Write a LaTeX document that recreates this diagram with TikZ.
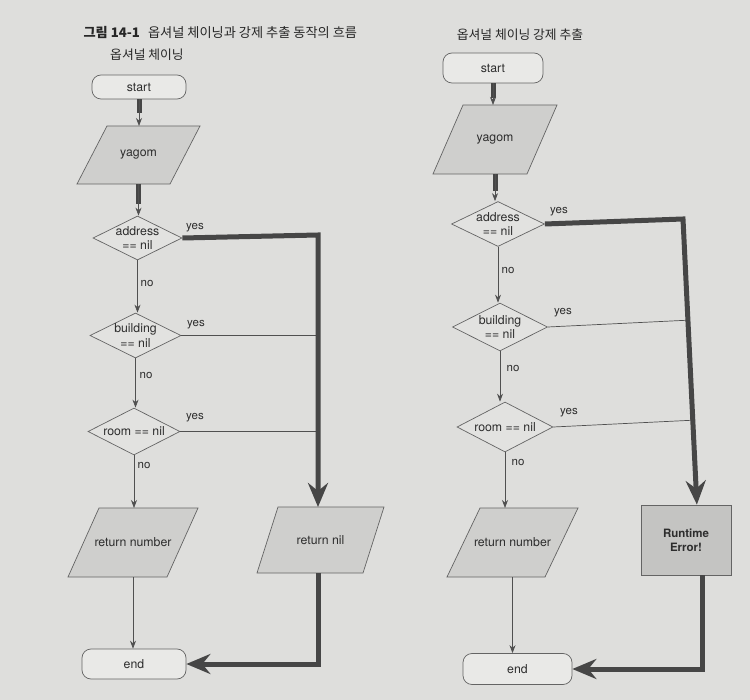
\documentclass[tikz,border=0pt]{standalone}
\usepackage{fontspec}
\setmainfont{TeX Gyre Heros}
\newfontfamily\kr{Noto Sans CJK KR}
\usetikzlibrary{shapes.geometric,arrows.meta,calc}
\definecolor{paper}{RGB}{222,222,220}
\definecolor{termfill}{RGB}{233,233,231}
\definecolor{iofill}{RGB}{207,207,205}
\definecolor{decfill}{RGB}{226,226,224}
\definecolor{procfill}{RGB}{196,196,194}
\definecolor{shapeline}{RGB}{100,100,100}
\definecolor{linec}{RGB}{80,80,80}
\definecolor{thickc}{RGB}{70,70,70}
\definecolor{txtc}{RGB}{45,45,45}
\tikzset{
  base/.style={font=\fontsize{12.3}{14}\selectfont, text=txtc, align=center, line width=0.7pt, draw=shapeline},
  term/.style={base, rectangle, rounded corners=9pt, fill=termfill},
  iostyle/.style={draw=shapeline, line width=0.7pt, fill=iofill},
  iotext/.style={font=\fontsize{12.3}{14}\selectfont, text=txtc, align=center},
  dec/.style={base, diamond, fill=decfill, inner sep=0pt},
  dtext/.style={font=\fontsize{12.3}{14.5}\selectfont, text=txtc, align=center},
  proc/.style={base, rectangle, fill=procfill, font=\bfseries\fontsize{11.5}{14}\selectfont},
  flow/.style={draw=linec, line width=0.7pt, -{Stealth[length=8pt,width=6pt]}},
  flowline/.style={draw=linec, line width=0.7pt},
  bar/.style={draw=thickc, line width=5pt},
  barend/.style={bar, -{Stealth[length=24pt,width=20pt,inset=8pt]}},
  lab/.style={font=\fontsize{11.5}{13}\selectfont, text=txtc},
  ttl/.style={font=\kr\fontsize{12.8}{14}\selectfont, text=black!85},
}
% #1 name, #2 cx, #3 cy, #4 total width, #5 height, #6 slant, #7 text
\newcommand\iobox[7]{%
  \draw[iostyle] ({#2-#4/2+#6},{#3-#5/2}) -- ({#2+#4/2},{#3-#5/2}) -- ({#2+#4/2-#6},{#3+#5/2}) -- ({#2-#4/2},{#3+#5/2}) -- cycle;
  \node[iotext] (#1) at (#2,#3) {#7};
  \coordinate (#1-n) at (#2,{#3-#5/2});
  \coordinate (#1-s) at (#2,{#3+#5/2});
}
\begin{document}
\begin{tikzpicture}[x=1pt,y=-1pt]
\useasboundingbox (0,0) rectangle (750,700);
\fill[paper] (0,0) rectangle (750,700);

% titles
\node[ttl, anchor=west, font=\kr\fontsize{13.2}{14}\selectfont] (title) at (80,33) {{\bfseries 그림 14-1}\hspace{8pt}옵셔널 체이닝과 강제 추출 동작의 흐름};
\node[ttl] (subL) at (147,55) {옵셔널 체이닝};
\node[ttl] (subR) at (520,35) {옵셔널 체이닝 강제 추출};

% ---------------- left chart ----------------
\node[term, minimum width=94pt, minimum height=24pt] (startL) at (139,87) {start};
\iobox{yagL}{138.5}{155}{123}{58}{30}{yagom}
\node[dec, minimum width=89pt, minimum height=44pt, label={[dtext]center:address\\== nil}] (addrL) at (137.5,238) {};
\node[dec, minimum width=91pt, minimum height=45pt, label={[dtext]center:building\\== nil}] (bldL) at (135.5,335.5) {};
\node[dec, minimum width=92pt, minimum height=47pt, label={[dtext]center:room == nil}] (roomL) at (134,431.5) {};
\iobox{retnumL}{133}{542.5}{130}{69}{31}{return number}
\iobox{retnil}{320.5}{540}{127}{66}{21}{return nil}
\node[term, minimum width=104pt, minimum height=30pt] (endL) at (134,664) {end};

\draw[bar] (startL.south) -- ++(0,14);
\draw[flow] (startL.south) -- (startL.south |- yagL-n);
\draw[bar] (yagL-s) -- ++(0,20);
\draw[flow] (yagL-s) -- (yagL-s |- addrL.north);
\draw[flow] (addrL.south) -- (addrL.south |- bldL.north);
\draw[flow] (bldL.south) -- (bldL.south |- roomL.north);
\draw[flow] (roomL.south) -- (roomL.south |- retnumL-n);
\draw[flow] (retnumL-s) -- (retnumL-s |- endL.north);

\coordinate (cL) at (318,235);
\draw[flowline] (bldL.east) -- (bldL.east -| cL);
\draw[flowline] (roomL.east) -- (roomL.east -| cL);
\draw[barend] (addrL.east) -- (cL) -- (cL |- retnil-n);
\draw[barend] (retnil-s -| cL) -- (cL |- endL.east) -- (endL.east);

\node[lab] (yes1L) at (195,228) {yes};
\node[lab] (yes2L) at (196,325) {yes};
\node[lab] (yes3L) at (195,418) {yes};
\node[lab] (no1L) at (147,283) {no};
\node[lab] (no2L) at (146,375) {no};
\node[lab] (no3L) at (144,465) {no};

% ---------------- right chart ----------------
\node[term, minimum width=100pt, minimum height=30pt] (startR) at (493,68) {start};
\iobox{yagR}{495}{139.5}{124}{69}{30}{yagom}
\node[dec, minimum width=93pt, minimum height=45pt, label={[dtext]center:address\\== nil}] (addrR) at (498,224) {};
\node[dec, minimum width=95pt, minimum height=48pt, label={[dtext]center:building\\== nil}] (bldR) at (500,327) {};
\node[dec, minimum width=96pt, minimum height=50pt, label={[dtext]center:room == nil}] (roomR) at (505,427) {};
\iobox{retnumR}{512.5}{542.5}{131}{69}{33}{return number}
\node[proc, minimum width=90pt, minimum height=70pt] (rt) at (686,540) {Runtime\\Error!};
\node[term, minimum width=109pt, minimum height=31pt] (endR) at (517.5,669) {end};

\draw[bar] (startR.south) -- ++(0,15);
\draw[flow] (startR.south) -- (startR.south |- yagR-n);
\draw[bar] (yagR-s) -- ++(0,17);
\draw[flow] (yagR-s) -- (yagR-s |- addrR.north);
\draw[flow] (addrR.south) -- (addrR.south |- bldR.north);
\draw[flow] (bldR.south) -- (bldR.south |- roomR.north);
\draw[flow] (roomR.south) -- (roomR.south |- retnumR-n);
\draw[flow] (retnumR-s) -- (retnumR-s |- endR.north);

\coordinate (cR) at (683,219);
\coordinate (rtin) at ($(rt.north west)!0.62!(rt.north east)$);
\coordinate (rtout) at ($(rt.south west)!0.68!(rt.south east)$);
\draw[flowline] (bldR.east) -- ($(cR)!(bldR.east)!(rtin)$);
\draw[flowline] (roomR.east) -- ($(cR)!(roomR.east)!(rtin)$);
\draw[barend] (addrR.east) -- (cR) -- (rtin);
\draw[barend] (rtout) -- (rtout |- endR.east) -- (endR.east);

\node[lab] (yes1R) at (559,212) {yes};
\node[lab] (yes2R) at (563,313) {yes};
\node[lab] (yes3R) at (569,413) {yes};
\node[lab] (no1R) at (508,270) {no};
\node[lab] (no2R) at (513,368) {no};
\node[lab] (no3R) at (518,462) {no};
\end{tikzpicture}
\end{document}
